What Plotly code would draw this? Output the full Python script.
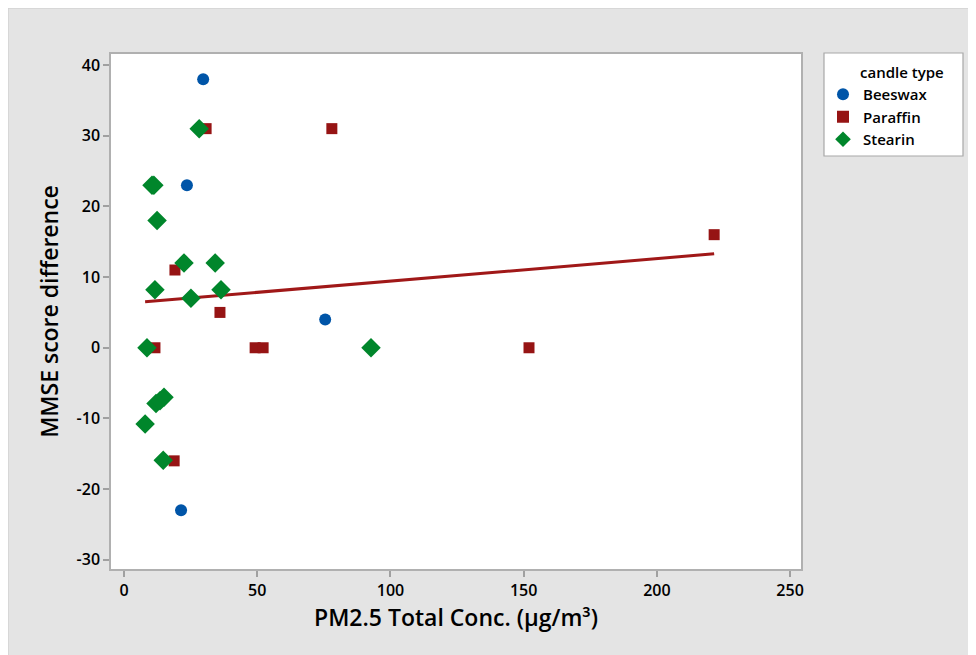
import plotly.graph_objects as go

# ---- data ----
beeswax_x = [29.7, 23.6, 75.5, 21.4]
beeswax_y = [38, 23, 4, -23]

paraffin_x = [30.8, 78.0, 221.5, 19.1, 36.0, 11.6, 49.2, 52.2, 152.0, 18.8]
paraffin_y = [31, 31, 16, 11, 5, 0, 0, 0, 0, -16]

stearin_x = [28.2, 10.5, 11.2, 12.4, 22.5, 34.2, 11.6, 25.1, 36.4, 8.6, 12.0, 13.5, 15.0, 7.9, 14.7, 92.7]
stearin_y = [31, 23, 23, 18, 12, 12, 8.2, 7, 8.2, 0, -7.9, -7.5, -7, -10.8, -15.9, 0]

# fitted line (endpoints at min and max x)
fit_x = [7.9, 221.5]
fit_y = [6.5, 13.3]

x_ticks = [0, 50, 100, 150, 200, 250]
y_ticks = [-30, -20, -10, 0, 10, 20, 30, 40]

# ---- layout geometry (figure pixels; page adds an 8px body margin) ----
OFF = 8
W, H = 976 - OFF, 655 - OFF
L, R, T, B = 111 - OFF, 801 - OFF, 54 - OFF, 569 - OFF
pw, ph = R - L, B - T


def px(x):
    return (x - OFF - L) / pw


def py(y):
    return (B - (y - OFF)) / ph


FONT = "Open Sans"
fig = go.Figure()

fig.add_trace(go.Scatter(x=fit_x, y=fit_y, mode="lines",
                         line=dict(color="#A01818", width=3),
                         showlegend=False, hoverinfo="skip"))
fig.add_trace(go.Scatter(x=beeswax_x, y=beeswax_y, mode="markers", name="Beeswax",
                         marker=dict(symbol="circle", size=12, color="#0055A8")))
fig.add_trace(go.Scatter(x=paraffin_x, y=paraffin_y, mode="markers", name="Paraffin",
                         marker=dict(symbol="square", size=11, color="#961414")))
fig.add_trace(go.Scatter(x=stearin_x, y=stearin_y, mode="markers", name="Stearin",
                         marker=dict(symbol="diamond", size=15, color="#00862B")))

shapes = [
    dict(type="rect", xref="paper", yref="paper", x0=px(OFF), x1=px(W + OFF + 3),
         y0=py(H + OFF + 3), y1=py(OFF),
         fillcolor="rgba(0,0,0,0)", line=dict(width=1.5, color="#d2d2d2"), layer="above"),
    # legend box
    dict(type="rect", xref="paper", yref="paper", x0=px(824), x1=px(963), y0=py(156), y1=py(53),
         fillcolor="white", line=dict(width=1.2, color="#a8a8a8"), layer="below"),
]

fig.update_layout(
    width=W, height=H,
    margin=dict(l=L, r=W - R, t=T, b=H - B),
    paper_bgcolor="#e4e4e4",
    plot_bgcolor="white",
    font=dict(family=FONT, size=15, color="black", weight=600),
    shapes=shapes,
    showlegend=True,
    legend=dict(
        x=px(823), y=py(58.5), xanchor="left", yanchor="top",
        bgcolor="rgba(0,0,0,0)", borderwidth=0,
        title=dict(text="&nbsp;" * 9 + "candle type",
                   font=dict(size=15, weight=600)),
        font=dict(size=15, weight=600), tracegroupgap=0, itemsizing="constant",
    ),
    xaxis=dict(
        range=[-4.9, 254.1], tickvals=x_ticks, ticktext=[str(v) for v in x_ticks],
        showgrid=False, zeroline=False,
        showline=True, mirror=True, linecolor="#b0b0b0", linewidth=1.5,
        ticks="outside", ticklen=6, tickcolor="#a0a0a0", tickwidth=1.5,
        tickfont=dict(size=16, weight=600),
        title=dict(text="PM2.5 Total Conc. (μg/m³)", font=dict(size=23, weight=600), standoff=9),
    ),
    yaxis=dict(
        range=[-31.3, 41.56], tickvals=y_ticks, ticktext=[str(v) for v in y_ticks],
        showgrid=False, zeroline=False,
        showline=True, mirror=True, linecolor="#b0b0b0", linewidth=1.5,
        ticks="outside", ticklen=6, tickcolor="#a0a0a0", tickwidth=1.5,
        tickfont=dict(size=16, weight=600),
        title=dict(text="MMSE score difference", font=dict(size=23, weight=600), standoff=12),
    ),
)

fig.write_html("out.html")
